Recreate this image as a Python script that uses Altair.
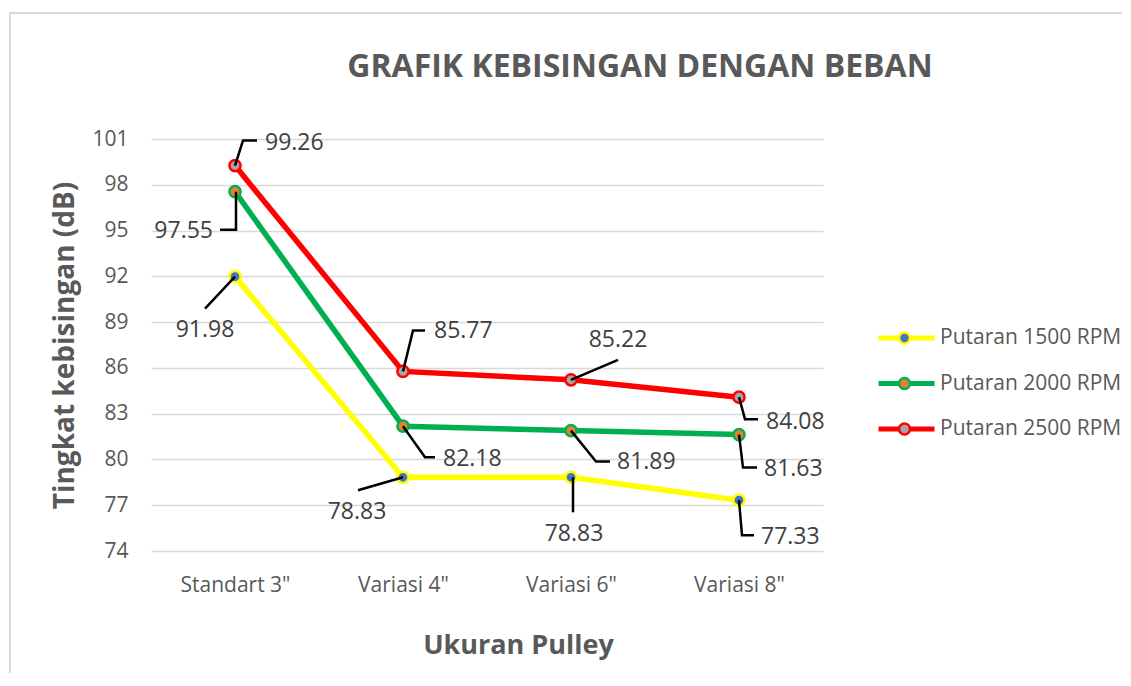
import altair as alt
import pandas as pd

# ---------------- data ----------------
categories = ['Standart 3"', 'Variasi 4"', 'Variasi 6"', 'Variasi 8"']
series_names = ["Putaran 1500 RPM", "Putaran 2000 RPM", "Putaran 2500 RPM"]
rpm_1500 = [91.98, 78.83, 78.83, 77.33]
rpm_2000 = [97.55, 82.18, 81.89, 81.63]
rpm_2500 = [99.26, 85.77, 85.22, 84.08]
y_ticks = [74, 77, 80, 83, 86, 89, 92, 95, 98, 101]

# ---------------- style ----------------
line_colors = ["#FFFF00", "#00B050", "#FF0000"]
marker_fills = ["#4472C4", "#ED7D31", "#A5A5A5"]
GRAY = "#595959"
FONT = "Open Sans"
Y_MIN, Y_MAX = 74, 101
W, H = 672, 412

# data-label callouts: (series idx, category idx) -> leader path (px offsets), text (dx, dy, align)
label_layout = {
    (2, 0): ([(0, 0), (8, -25), (22, -25)], (30, -23, "left")),
    (1, 0): ([(1, 0), (1, 38), (-15, 38)], (-22, 39, "right")),
    (0, 0): ([(0, 0), (-30, 32)], (-30, 53, "center")),
    (2, 1): ([(0, 0), (10, -41), (22, -41)], (31, -40, "left")),
    (1, 1): ([(0, 0), (22, 31), (32, 31)], (40, 33, "left")),
    (0, 1): ([(0, 0), (-45, 13)], (-46, 35, "center")),
    (2, 2): ([(0, 0), (47, -20)], (47, -40, "center")),
    (1, 2): ([(0, 0), (25, 31), (39, 31)], (46, 31, "left")),
    (0, 2): ([(2, 0), (2, 35)], (3, 57, "center")),
    (2, 3): ([(0, 0), (6, 22), (19, 22)], (27, 25, "left")),
    (1, 3): ([(0, 0), (4, 33), (18, 33)], (25, 34, "left")),
    (0, 3): ([(0, 0), (3, 35), (15, 35)], (22, 37, "left")),
}

all_series = [rpm_1500, rpm_2000, rpm_2500]
rows, leader_rows, text_rows = [], [], []
for si, vals in enumerate(all_series):
    for ci, v in enumerate(vals):
        rows.append({"series": series_names[si], "cat": categories[ci], "value": v})
        path, (tdx, tdy, al) = label_layout[(si, ci)]
        for k, (dx, dy) in enumerate(path):
            leader_rows.append({"lid": f"{si}-{ci}", "order": k, "cat": categories[ci],
                                "value": v, "dx": dx, "dy": dy})
        text_rows.append({"cat": categories[ci], "value": v, "label": f"{v:.2f}",
                          "dx": tdx, "dy": tdy, "align": al})

df = pd.DataFrame(rows)
leader_df = pd.DataFrame(leader_rows)
text_df = pd.DataFrame(text_rows)

# pixel -> data-unit conversion for the vertical callout offsets
PX2Y = (Y_MAX - Y_MIN) / H

xenc = alt.X(
    "cat:N", sort=categories,
    scale=alt.Scale(type="point", padding=0.5),
    axis=alt.Axis(labelAngle=0, domain=False, ticks=False, tickSize=0, grid=False,
                  labelPadding=34, labelBaseline="middle", labelFont=FONT, labelFontSize=21,
                  labelColor=GRAY, titleFont=FONT, titleFontSize=27, titleFontWeight="bold",
                  titleColor=GRAY, titleX=367, titleY=94, titleAlign="center",
                  titleBaseline="middle"),
    title="Ukuran Pulley",
)


def yenc(field):
    return alt.Y(
        f"{field}:Q",
        scale=alt.Scale(domain=[Y_MIN, Y_MAX], nice=False, zero=False),
        axis=alt.Axis(values=y_ticks, grid=True, gridColor="#D9D9D9", gridWidth=1.5,
                      domain=False, ticks=False, tickSize=0, labelPadding=23,
                      labelFont=FONT, labelFontSize=21, labelColor=GRAY,
                      titleFont=FONT, titleFontSize=28, titleFontWeight="bold",
                      titleColor=GRAY, titleAngle=270, titleX=-86, titleY=206,
                      titleAlign="center", titleBaseline="middle"),
        title="Tingkat kebisingan (dB)",
    )


LEG_Y = 187
line_legend = alt.Legend(orient="none", legendX=725, legendY=LEG_Y, title=None,
                         symbolType="stroke", symbolStrokeWidth=5, symbolSize=3136,
                         clipHeight=24, rowPadding=21.5, labelOffset=3, padding=0,
                         labelLimit=400, labelFont=FONT, labelFontSize=21, labelColor=GRAY)
pt_legend = alt.Legend(orient="none", legendX=743, legendY=LEG_Y, title=None,
                       symbolType="circle", symbolSize=120, symbolStrokeWidth=2.5,
                       clipHeight=24, rowPadding=21.5, labelOffset=4, padding=0,
                       labelFont=FONT, labelFontSize=21, labelExpr="''")

frame = alt.Chart(alt.Data(values=[{}])).mark_rect(
    fillOpacity=0, stroke="#D9D9D9", strokeWidth=2
).encode(x=alt.value(-141), y=alt.value(-126), x2=alt.value(1100), y2=alt.value(700))

title = alt.Chart(alt.Data(values=[{}])).mark_text(
    text="GRAFIK KEBISINGAN DENGAN BEBAN", font=FONT, fontSize=32, fontWeight="bold",
    color=GRAY, align="center", baseline="middle"
).encode(x=alt.value(489), y=alt.value(-72))

lines = alt.Chart(df).mark_line(strokeWidth=5.5).encode(
    x=xenc, y=yenc("value"),
    color=alt.Color("series:N", scale=alt.Scale(domain=series_names, range=line_colors),
                    legend=line_legend),
)

points = alt.Chart(df).transform_calculate(marker="datum.series").mark_point(
    shape="circle", filled=True, size=125, strokeWidth=2.5, opacity=1
).encode(
    x=xenc, y=yenc("value"),
    fill=alt.Fill("marker:N", scale=alt.Scale(range=marker_fills), legend=pt_legend),
    stroke=alt.Stroke("marker:N", scale=alt.Scale(range=line_colors), legend=pt_legend),
)

leaders = alt.Chart(leader_df).transform_calculate(
    ypos=f"datum.value - datum.dy * {PX2Y}"
).mark_line(color="black", strokeWidth=2.5).encode(
    x=xenc, y=yenc("ypos"),
    xOffset=alt.XOffset("dx:Q", scale=None),
    detail="lid:N", order="order:Q",
)

texts = []
for al in ["left", "right", "center"]:
    texts.append(
        alt.Chart(text_df).transform_filter(alt.datum.align == al).transform_calculate(
            ypos=f"datum.value - datum.dy * {PX2Y}"
        ).mark_text(
            align=al, baseline="middle", font=FONT, fontSize=23, color="#404040"
        ).encode(
            x=xenc, y=yenc("ypos"),
            xOffset=alt.XOffset("dx:Q", scale=None),
            text="label:N",
        )
    )

chart = alt.layer(frame, title, lines, points, leaders, *texts).properties(
    width=W, height=H,
    autosize=alt.AutoSizeParams(type="none"),
    padding={"left": 143, "top": 131, "right": 299, "bottom": 122},
    background="white",
).configure_view(stroke=None)

chart.save("out.html", embed_options={"renderer": "svg", "actions": False})
